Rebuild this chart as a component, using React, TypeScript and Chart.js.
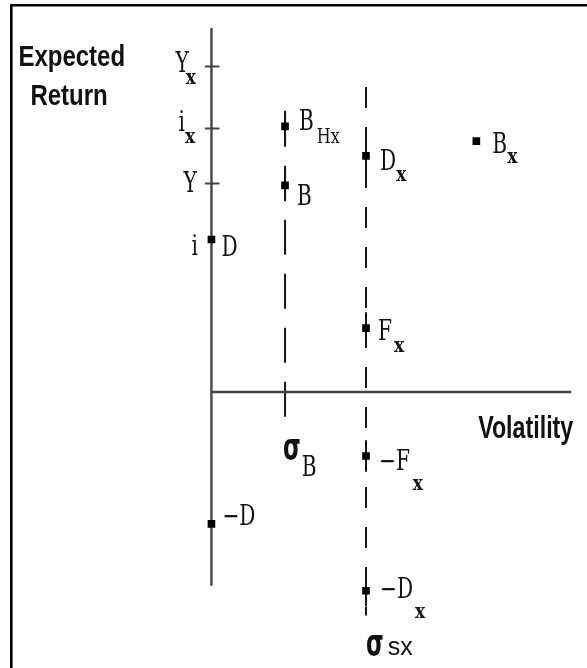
import React, { useEffect, useRef } from "react";
import { Chart, registerables } from "chart.js";

Chart.register(...registerables);

// ---------------- data ----------------
const pointLabels = ["D", "−D", "B", "B_Hx", "D_x", "F_x", "−F_x", "−D_x", "B_x"];
const pointVolatility = [0, 0, 1.0, 1.0, 2.1, 2.1, 2.1, 2.1, 3.6];
const pointReturn = [3.1, -2.68, 4.2, 5.4, 4.8, 1.3, -1.3, -4.04, 5.1];

const tickLabels = ["Y_x", "i_x", "Y"];
const tickReturn = [6.62, 5.36, 4.24];
const riskFreeLabel = "i";
const riskFreeReturn = 3.1;

const sigmaLabels = ["σ_B", "σ_sx"];
const sigmaVolatility = [1.0, 2.1];
const sigmaTop = [5.7, 6.2];
const sigmaBottom = [-0.64, -4.54];

const returnAxisRange = [-3.94, 7.4];
const volatilityAxisRange = [0, 4.89];
const volatilityRange = [-2.8, 5.03];
const returnRange = [-5.5, 7.86];

const yTitle = ["Expected", "Return"];
const xTitle = "Volatility";

// ---------------- styles ----------------
const W = 587;
const H = 668;
const SERIF = "'DejaVu Serif', 'Liberation Serif', serif";
const SANS = "'Liberation Sans', Arial, sans-serif";
const SERIF_FONT = `28px ${SERIF}`;
const SERIF_SX = 0.72;
const SUB_FONT = `bold 20px ${SERIF}`;
const SUB_SX = 0.85;
const AXIS_COLOR = "#444";
const DASH_COLOR = "#151515";
const WHISKER = 0.32;
const TICK_LEFT = -0.09;
const TICK_RIGHT = 0.11;
const SIGMA_DASH = [[35, 19], [21, 19]];

type Layout = { dx: number; dy: number; gap: number; subDy: number; subFont?: string; subSx?: number };
const LABEL_LAYOUT: Record<string, Layout> = {
  "D": { dx: 10, dy: 16, gap: 0, subDy: 0 },
  "−D": { dx: 11, dy: 1, gap: 0, subDy: 0 },
  "B": { dx: 12, dy: 20, gap: 0, subDy: 0 },
  "B_Hx": { dx: 14, dy: 4, gap: 3, subDy: 13, subFont: `20px ${SERIF}`, subSx: 0.8 },
  "D_x": { dx: 14, dy: 14, gap: 0, subDy: 11 },
  "F_x": { dx: 12, dy: 12, gap: 2, subDy: 12 },
  "−F_x": { dx: 13, dy: 14, gap: 3, subDy: 20 },
  "−D_x": { dx: 14, dy: 7, gap: 2, subDy: 20 },
  "B_x": { dx: 16, dy: 12, gap: 0, subDy: 10 },
  "Y_x": { dx: -36, dy: 6, gap: -3, subDy: 12 },
  "i_x": { dx: -33, dy: 3, gap: 0, subDy: 12 },
  "Y": { dx: -28, dy: 9, gap: 0, subDy: 0 },
  "i": { dx: -20, dy: 15, gap: 0, subDy: 0 },
};

function drawScaled(
  ctx: CanvasRenderingContext2D,
  s: string,
  x: number,
  y: number,
  font: string,
  sx: number,
  align: "left" | "right" = "left"
) {
  ctx.save();
  ctx.font = font;
  ctx.textAlign = "left";
  ctx.textBaseline = "alphabetic";
  const w = ctx.measureText(s).width * sx;
  const x0 = align === "right" ? x - w : x;
  ctx.translate(x0, y);
  ctx.scale(sx, 1);
  ctx.fillText(s, 0, 0);
  ctx.restore();
  return w;
}

function drawLabel(ctx: CanvasRenderingContext2D, label: string, px: number, py: number) {
  const lay = LABEL_LAYOUT[label];
  const [main, sub] = label.split("_");
  const w = drawScaled(ctx, main, px + lay.dx, py + lay.dy, SERIF_FONT, SERIF_SX);
  if (sub) {
    drawScaled(
      ctx,
      sub,
      px + lay.dx + w + lay.gap,
      py + lay.dy + lay.subDy,
      lay.subFont || SUB_FONT,
      lay.subSx || SUB_SX
    );
  }
}

const textPlugin = {
  id: "diagramText",
  beforeDraw(chart: any) {
    const ctx = chart.ctx as CanvasRenderingContext2D;
    ctx.save();
    ctx.strokeStyle = "#000";
    ctx.lineWidth = 2.6;
    ctx.beginPath();
    ctx.moveTo(11.3, H);
    ctx.lineTo(11.3, 5.3);
    ctx.lineTo(W, 5.3);
    ctx.stroke();
    ctx.restore();
  },
  afterDatasetsDraw(chart: any) {
    const ctx = chart.ctx as CanvasRenderingContext2D;
    const xs = chart.scales.x;
    const ys = chart.scales.y;
    const area = chart.chartArea;
    ctx.save();
    ctx.fillStyle = "#111";

    drawScaled(ctx, yTitle[0], area.left + 13, area.top + 61, `bold 30px ${SANS}`, 0.8);
    drawScaled(ctx, yTitle[1], area.left + 25, area.top + 100, `bold 30px ${SANS}`, 0.8);
    drawScaled(
      ctx,
      xTitle,
      xs.getPixelForValue(volatilityAxisRange[1]) + 2,
      ys.getPixelForValue(0) + 46,
      `bold 31px ${SANS}`,
      0.75,
      "right"
    );

    const ax = xs.getPixelForValue(0);
    tickLabels.forEach((lab, i) => drawLabel(ctx, lab, ax, ys.getPixelForValue(tickReturn[i])));
    drawLabel(ctx, riskFreeLabel, ax, ys.getPixelForValue(riskFreeReturn));

    pointLabels.forEach((lab, i) =>
      drawLabel(ctx, lab, xs.getPixelForValue(pointVolatility[i]), ys.getPixelForValue(pointReturn[i]))
    );

    sigmaLabels.forEach((lab, i) => {
      const px = xs.getPixelForValue(sigmaVolatility[i]);
      const py = ys.getPixelForValue(sigmaBottom[i]);
      const [, sub] = lab.split("_");
      const sigmaX = i === 0 ? px - 2 : px;
      const base = i === 0 ? py + 35 : py + 40;
      const w = drawScaled(ctx, "σ", sigmaX, base, `bold 38px 'DejaVu Sans', sans-serif`, 0.6);
      if (i === 0) {
        drawScaled(ctx, sub, sigmaX + w + 1, base + 17, SERIF_FONT, SERIF_SX);
      } else {
        drawScaled(ctx, sub, sigmaX + w + 4, base, `25px ${SANS}`, 1.0);
      }
    });
    ctx.restore();
  },
};

function seg(x1: number, y1: number, x2: number, y2: number) {
  return [
    { x: x1, y: y1 },
    { x: x2, y: y2 },
  ];
}

export default function App() {
  const ref = useRef<HTMLCanvasElement | null>(null);

  useEffect(() => {
    document.body.style.margin = "0";
    const canvas = ref.current;
    if (!canvas) return;

    const lineDs = (data: any[], color: string, width: number, dash: number[] = []) => ({
      type: "scatter" as const,
      data,
      showLine: true,
      borderColor: color,
      borderWidth: width,
      borderDash: dash,
      pointRadius: 0,
      fill: false,
      tension: 0,
    });

    const datasets: any[] = [];
    datasets.push({
      type: "scatter",
      data: pointVolatility.map((v, i) => ({ x: v, y: pointReturn[i] })),
      pointStyle: "rect",
      pointRadius: 5.4,
      backgroundColor: "#000",
      borderColor: "#000",
      borderWidth: 0,
      showLine: false,
    });
    pointVolatility.forEach((v, i) => {
      if (v > 0 && sigmaVolatility.includes(v)) {
        datasets.push(lineDs(seg(v, pointReturn[i] + WHISKER, v, pointReturn[i] - WHISKER), DASH_COLOR, 2));
      }
    });
    datasets.push(lineDs(seg(0, returnAxisRange[0], 0, returnAxisRange[1]), AXIS_COLOR, 2.4));
    datasets.push(lineDs(seg(volatilityAxisRange[0], 0, volatilityAxisRange[1], 0), AXIS_COLOR, 2.4));
    tickReturn.forEach((r) => datasets.push(lineDs(seg(TICK_LEFT, r, TICK_RIGHT, r), AXIS_COLOR, 2)));
    sigmaVolatility.forEach((v, i) =>
      datasets.push(lineDs(seg(v, sigmaTop[i], v, sigmaBottom[i]), DASH_COLOR, 2, SIGMA_DASH[i]))
    );

    const chart = new Chart(canvas, {
      type: "scatter",
      data: { datasets },
      options: {
        responsive: false,
        animation: false,
        events: [],
        layout: { padding: 0 },
        plugins: { legend: { display: false }, tooltip: { enabled: false } },
        scales: {
          x: { type: "linear", min: volatilityRange[0], max: volatilityRange[1], display: false },
          y: { type: "linear", min: returnRange[0], max: returnRange[1], display: false },
        },
      },
      plugins: [textPlugin],
    });
    return () => chart.destroy();
  }, []);

  return (
    <div style={{ width: W, height: H, background: "#fff" }}>
      <canvas ref={ref} width={W} height={H} style={{ display: "block", width: W, height: H }} />
    </div>
  );
}
